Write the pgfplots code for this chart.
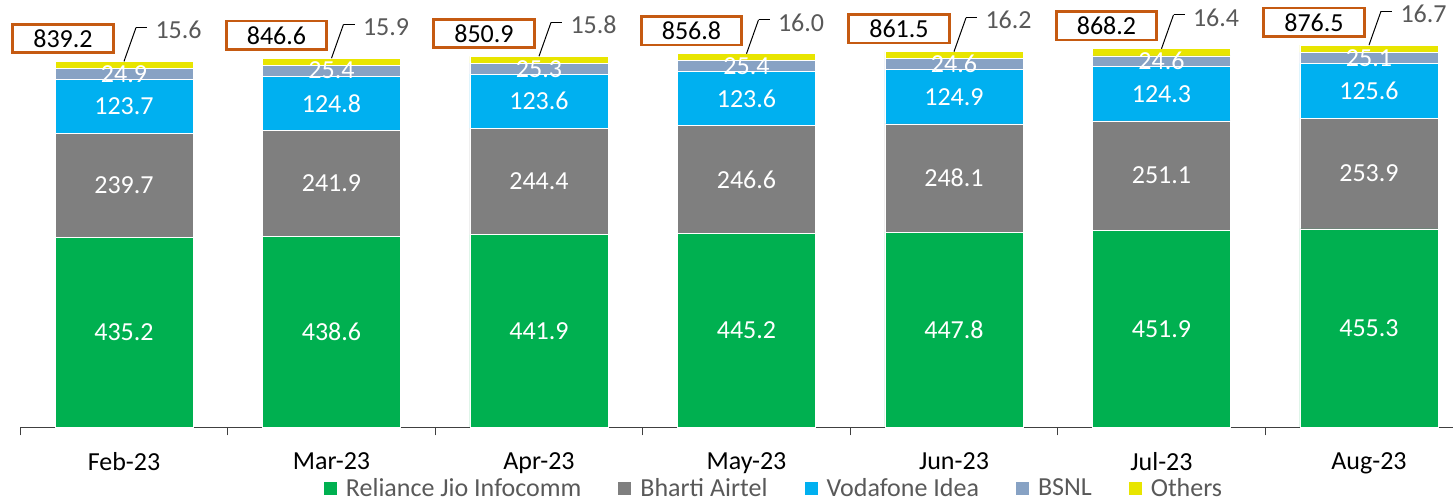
\documentclass[border=0pt]{standalone}
\usepackage{fontspec}
\setmainfont{Carlito}
\usepackage{pgfplots}
\usepackage{pgfplotstable}
\pgfplotsset{compat=1.18}

\definecolor{jio}{HTML}{00B050}
\definecolor{airtel}{HTML}{7F7F7F}
\definecolor{vi}{HTML}{00B0F0}
\definecolor{bsnl}{HTML}{87A2C4}
\definecolor{oth}{HTML}{E8E500}
\definecolor{boxc}{HTML}{C55A11}
\definecolor{axisgray}{HTML}{404040}
\definecolor{textgray}{HTML}{595959}

\newcommand\f{\fontsize{13pt}{15pt}\selectfont}

% subscribers (million), one row per month
\pgfplotstableread{
x lbl jio airtel vi bsnl oth total dx
0 Feb-23 435.2 239.7 123.7 24.9 15.6 839.2 -0.294
1 Mar-23 438.6 241.9 124.8 25.4 15.9 846.6 -0.265
2 Apr-23 441.9 244.4 123.6 25.3 15.8 850.9 -0.265
3 May-23 445.2 246.6 123.6 25.4 16.0 856.8 -0.265
4 Jun-23 447.8 248.1 124.9 24.6 16.2 861.5 -0.265
5 Jul-23 451.9 251.1 124.3 24.6 16.4 868.2 -0.265
6 Aug-23 455.3 253.9 125.6 25.1 16.7 876.5 -0.265
}\data

\pgfplotsset{
  base/.style={scale only axis, width=716.375pt, height=213.75pt,
    xmin=-0.5, xmax=6.405, ymin=0, ymax=980, enlargelimits=false, clip=false},
  lab/.style={draw=none, mark=none, nodes near coords, point meta=explicit symbolic},
}

\begin{document}
\begin{tikzpicture}
\begin{axis}[base,
  ybar stacked, bar width=0.665,
  axis x line*=bottom, axis y line=none,
  x axis line style={draw=axisgray, line width=0.6pt},
  xtick={0,...,6},
  xticklabels={Feb-23,Mar-23,Apr-23,May-23,Jun-23,Jul-23,Aug-23},
  minor xtick={-0.5,0.5,...,5.5},
  major tick length=0pt, minor tick length=4pt, tick align=outside,
  tick style={draw=axisgray, line width=0.6pt},
  xticklabel style={font=\f, text=black, yshift=-9pt},
  every axis plot post/.append style={
    legend image code/.code={\path[##1, draw=none] (0pt,-3.25pt) rectangle (6.5pt,3.25pt);}},
  legend style={at={(0.5254,0)}, anchor=center, yshift=-30.75pt,
    draw=none, fill=none, font=\f,
    nodes={text=textgray, inner sep=0pt},
    /tikz/every odd column/.append style={column sep=4.5pt},
    /tikz/every even column/.append style={column sep=18.5pt}},
  legend columns=-1, legend cell align=left,
]
\addplot[fill=jio, draw=white, line width=0.3pt] table[x=x, y=jio]{\data};
\addplot[fill=airtel, draw=white, line width=0.3pt] table[x=x, y=airtel]{\data};
\addplot[fill=vi, draw=white, line width=0.3pt] table[x=x, y=vi]{\data};
\addplot[fill=bsnl, draw=white, line width=0.3pt] table[x=x, y=bsnl]{\data};
\addplot[fill=oth, draw=white, line width=0.3pt] table[x=x, y=oth]{\data};
\legend{Reliance Jio Infocomm, Bharti Airtel, Vodafone Idea, BSNL, Others}
\end{axis}

\begin{axis}[base, hide axis,
  every node near coord/.style={font=\f, anchor=center, inner sep=0pt, text=white}]
% values inside the segments
\addplot[lab] table[x=x, y expr=\thisrow{jio}/2, meta=jio]{\data};
\addplot[lab] table[x=x, y expr=\thisrow{jio}+\thisrow{airtel}/2, meta=airtel]{\data};
\addplot[lab] table[x=x, y expr=\thisrow{jio}+\thisrow{airtel}+\thisrow{vi}/2, meta=vi]{\data};
\addplot[lab] table[x=x, y expr=\thisrow{jio}+\thisrow{airtel}+\thisrow{vi}+\thisrow{bsnl}/2, meta=bsnl]{\data};
% totals in boxes
\addplot[lab, every node near coord/.append style={draw=boxc, line width=1.35pt,
    fill=white, text=black, minimum width=50.2pt, minimum height=14.2pt}]
  table[x expr=\thisrow{x}+\thisrow{dx}, y expr=\thisrow{total}+52.5, meta=total]{\data};
% others with leader lines
\addplot[lab, every node near coord/.append style={anchor=west, text=textgray}]
  table[x expr=\thisrow{x}+0.15, y expr=\thisrow{total}+72, meta=oth]{\data};
\addplot[black, line width=0.5pt, mark=none, quiver={u value=0.058, v value=77.7}]
  table[x=x, y=total]{\data};
\addplot[black, line width=0.5pt, mark=none, quiver={u value=0.053, v value=0}]
  table[x expr=\thisrow{x}+0.058, y expr=\thisrow{total}+77.7]{\data};
\end{axis}
\pgfresetboundingbox
\path[use as bounding box] (-10.125pt,-36.75pt) rectangle (716.375pt,213.75pt);
\end{tikzpicture}
\end{document}
